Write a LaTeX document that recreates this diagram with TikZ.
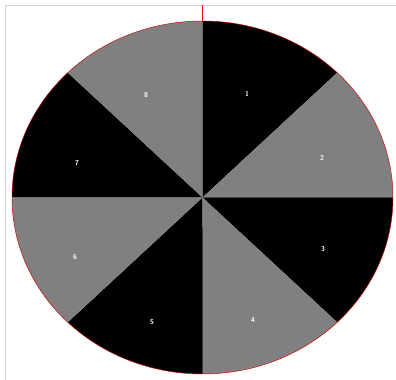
\documentclass[tikz,border=0pt]{standalone}
\usepackage{tikz}

\begin{document}
\begin{tikzpicture}[
  dark/.style={fill=black},
  light/.style={fill=gray!95!white, fill=gray},
  rim/.style={draw=red!80!black, line width=0.4pt},
  frame/.style={draw=gray!35, line width=0.6pt},
  lab/.style={text=white, font=\fontsize{6}{6}\selectfont\sffamily\bfseries, inner sep=0pt}
]
\useasboundingbox (0,0) rectangle (11.88,11.4);
\def\rx{5.715}
\def\ry{5.295}
\coordinate (c) at (6.075,5.475);
\coordinate (top) at (6.075,10.77);
\coordinate (tick) at (6.075,11.25);
\coordinate (fl) at (0.15,0);
\coordinate (ft) at (0.15,11.25);
\coordinate (fr) at (11.88,11.25);
% frame
\draw[frame] (fl) -- (ft) -- (fr);
% sectors
\foreach \a/\s in {45/dark, 0/light, -45/dark, -90/light, -135/dark, 180/light, 135/dark, 90/light}
  \fill[\s] (c) -- ++(\a:\rx\space and \ry) arc[start angle=\a, delta angle=45, x radius=\rx, y radius=\ry] -- cycle;
\draw[rim] (c) ellipse[x radius=\rx, y radius=\ry];
\draw[red, line width=0.6pt] (top) -- (tick);
% numbers
\node[lab] (n1) at (7.41,8.58) {1};
\node[lab] (n2) at (9.66,6.66) {2};
\node[lab] (n3) at (9.69,3.93) {3};
\node[lab] (n4) at (7.59,1.80) {4};
\node[lab] (n5) at (4.56,1.74) {5};
\node[lab] (n6) at (2.25,3.69) {6};
\node[lab] (n7) at (2.31,6.51) {7};
\node[lab] (n8) at (4.38,8.55) {8};
\end{tikzpicture}
\end{document}
